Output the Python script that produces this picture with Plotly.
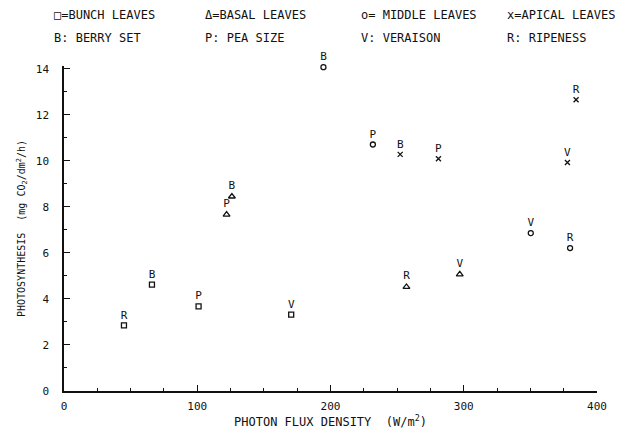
import plotly.graph_objects as go

# ---- data ----
bunch_x = [45, 66, 101, 170.5]
bunch_y = [2.85, 4.62, 3.68, 3.32]
bunch_lbl = ["R", "B", "P", "V"]

basal_x = [126, 122, 297, 257]
basal_y = [8.45, 7.66, 5.07, 4.52]
basal_lbl = ["B", "P", "V", "R"]

middle_x = [194.7, 231.8, 350.3, 379.8]
middle_y = [14.07, 10.71, 6.86, 6.21]
middle_lbl = ["B", "P", "V", "R"]

apical_x = [252.3, 281, 377.8, 384.3]
apical_y = [10.28, 10.09, 9.93, 12.65]
apical_lbl = ["B", "P", "V", "R"]

key_row1 = ["□=BUNCH LEAVES", "Δ=BASAL LEAVES", "o= MIDDLE LEAVES", "x=APICAL LEAVES"]
key_row2 = ["B: BERRY SET", "P: PEA SIZE", "V: VERAISON", "R: RIPENESS"]

x_ticks = [0, 100, 200, 300, 400]
y_ticks = [0, 2, 4, 6, 8, 10, 12, 14]

FONT = "DejaVu Sans Mono"
INK = "#111111"

fig = go.Figure()

series = [
    (bunch_x, bunch_y, bunch_lbl, "square-open", 5),
    (basal_x, basal_y, basal_lbl, "triangle-up-open", 6),
    (middle_x, middle_y, middle_lbl, "circle-open", 5),
    (apical_x, apical_y, apical_lbl, "x-thin-open", 5),
]
for xs, ys, lbl, sym, sz in series:
    fig.add_trace(go.Scatter(
        x=xs, y=ys, text=lbl, mode="markers+text",
        textposition="top center",
        textfont=dict(family=FONT, size=11, color=INK),
        marker=dict(symbol=sym, size=sz, color=INK, line=dict(width=1.3, color=INK)),
        cliponaxis=False, showlegend=False,
    ))

# geometry (page has an 8px body margin)
OFF = 8
W, H = 638 - OFF, 436 - OFF
YMAX = 14.12
px_left, px_right = 63.7, 596.7          # page x of x=0 / x=400
px_bottom = 390.7                         # page y of y=0
px_top = 68.3 - (YMAX - 14) * 23.03       # page y of y=YMAX
L = px_left - OFF
R = W - (px_right - OFF)
T = px_top - OFF
B = H - (px_bottom - OFF)
pw, ph = W - L - R, H - T - B

col_px = [52, 203, 359, 505]
for i in range(4):
    for txt, py in ((key_row1[i], 15), (key_row2[i], 38)):
        fig.add_annotation(
            x=(col_px[i] - px_left) / pw, y=(px_bottom - py) / ph,
            xref="paper", yref="paper",
            text=txt, showarrow=False, xanchor="left", yanchor="middle",
            font=dict(family=FONT, size=12, color=INK),
        )

fig.update_layout(
    width=W, height=H,
    margin=dict(l=L, r=R, t=T, b=B, pad=0, autoexpand=False),
    paper_bgcolor="white", plot_bgcolor="white",
    font=dict(family=FONT, size=11, color=INK),
)
fig.update_xaxes(
    range=[0, 400], tickvals=x_ticks, showgrid=False, zeroline=False,
    showline=True, linecolor=INK, linewidth=1.5, automargin=False,
    ticks="inside", ticklen=6, tickwidth=1.3, tickcolor=INK,
    minor=dict(dtick=25, ticks="inside", ticklen=3, tickwidth=1.2, tickcolor=INK),
    ticklabelstandoff=4,
    title=dict(text="PHOTON FLUX DENSITY  (W/m<sup>2</sup>)", standoff=5,
               font=dict(family=FONT, size=12, color=INK)),
)
fig.update_yaxes(
    range=[0, YMAX], tickvals=y_ticks, showgrid=False, zeroline=False,
    showline=True, linecolor=INK, linewidth=1.5, automargin=False,
    ticks="inside", ticklen=6, tickwidth=1.3, tickcolor=INK,
    minor=dict(dtick=1, ticks="inside", ticklen=3, tickwidth=1.2, tickcolor=INK),
    ticklabelstandoff=11,
    title=dict(text="PHOTOSYNTHESIS  (mg CO<sub>2</sub>/dm<sup>2</sup>/h)", standoff=8,
               font=dict(family=FONT, size=10, color=INK)),
)

fig.write_html("out.html")
